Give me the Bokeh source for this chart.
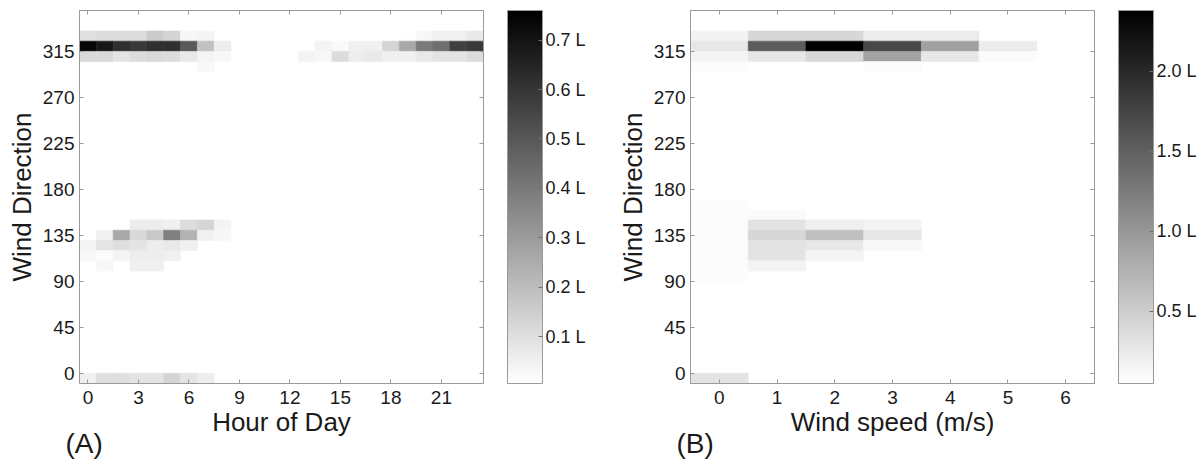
from bokeh.plotting import figure
from bokeh.models import (ColumnDataSource, LinearColorMapper, ColorBar, FixedTicker,
                          PrintfTickFormatter, Range1d, Title, LinearAxis)
from bokeh.layouts import row
from bokeh.palettes import Greys256
from bokeh.transform import transform
from bokeh.embed import file_html
from bokeh.resources import INLINE

FONT = "Liberation Sans"

# ---------------- data ----------------
hours = list(range(24))
speeds = list(range(7))
hour_ticks = [0, 3, 6, 9, 12, 15, 18, 21]
speed_ticks = [0, 1, 2, 3, 4, 5, 6]
direction_ticks = [0, 45, 90, 135, 180, 225, 270, 315]

# Panel A: wind-direction rows (bin centre, deg) x hour of day, litres
dirs_a = [330, 320, 310, 300, 145, 135, 125, 115, 105, -5]
vals_a = [
    [0.10, 0.11, 0.11, 0.11, 0.16, 0.13, 0.03, 0.04, 0, 0, 0, 0, 0, 0, 0, 0, 0, 0, 0, 0.01, 0.03, 0.05, 0.05, 0.07],
    [0.74, 0.69, 0.62, 0.59, 0.62, 0.62, 0.50, 0.19, 0.06, 0, 0, 0, 0, 0, 0.04, 0.02, 0.05, 0.05, 0.13, 0.26, 0.40, 0.43, 0.57, 0.59],
    [0.12, 0.12, 0.085, 0.11, 0.12, 0.11, 0.07, 0.04, 0.03, 0, 0, 0, 0, 0.04, 0.03, 0.11, 0.06, 0.07, 0.05, 0.05, 0.07, 0.085, 0.085, 0.11],
    [0, 0, 0, 0, 0, 0, 0, 0.026, 0, 0, 0, 0, 0, 0, 0, 0, 0, 0, 0, 0, 0, 0, 0, 0],
    [0, 0, 0, 0.06, 0.06, 0.05, 0.11, 0.13, 0.04, 0, 0, 0, 0, 0, 0, 0, 0, 0, 0, 0, 0, 0, 0, 0],
    [0, 0.05, 0.26, 0.12, 0.17, 0.38, 0.23, 0.05, 0.03, 0, 0, 0, 0, 0, 0, 0, 0, 0, 0, 0, 0, 0, 0, 0],
    [0.04, 0.085, 0.10, 0.085, 0.06, 0.07, 0.05, 0, 0, 0, 0, 0, 0, 0, 0, 0, 0, 0, 0, 0, 0, 0, 0, 0],
    [0.03, 0.015, 0.04, 0.06, 0.06, 0.05, 0, 0, 0, 0, 0, 0, 0, 0, 0, 0, 0, 0, 0, 0, 0, 0, 0, 0],
    [0, 0.03, 0, 0.05, 0.05, 0, 0, 0, 0, 0, 0, 0, 0, 0, 0, 0, 0, 0, 0, 0, 0, 0, 0, 0],
    [0.05, 0.10, 0.10, 0.085, 0.085, 0.13, 0.085, 0.06, 0, 0, 0, 0, 0, 0, 0, 0, 0, 0, 0, 0, 0, 0, 0, 0],
]

# Panel B: wind-direction rows (bin centre, deg) x wind speed (m/s), litres
dirs_b = [330, 320, 310, 300, 165, 155, 145, 135, 125, 115, 105, 95, -5]
vals_b = [
    [0.16, 0.42, 0.42, 0.23, 0.23, 0, 0],
    [0.27, 1.54, 2.38, 1.72, 0.92, 0.23, 0],
    [0.16, 0.27, 0.42, 0.89, 0.27, 0.09, 0],
    [0.09, 0, 0, 0.08, 0, 0, 0],
    [0.08, 0, 0, 0, 0, 0, 0],
    [0.08, 0.10, 0, 0, 0, 0, 0],
    [0.08, 0.31, 0.20, 0.16, 0, 0, 0],
    [0.08, 0.42, 0.63, 0.27, 0, 0, 0],
    [0.08, 0.31, 0.27, 0.12, 0, 0, 0],
    [0.08, 0.31, 0.16, 0, 0, 0, 0],
    [0.08, 0.16, 0, 0, 0, 0, 0],
    [0.08, 0, 0, 0, 0, 0, 0],
    [0.31, 0, 0, 0, 0, 0, 0],
]

cbar_ticks_a = [0.1, 0.2, 0.3, 0.4, 0.5, 0.6, 0.7]
cbar_ticks_b = [0.5, 1.0, 1.5, 2.0]
range_a = (0.005, 0.76)
range_b = (0.05, 2.38)
direction_bin = 10

GRAY = "#9a9a9a"
TXT = "#1a1a1a"


def make_source(dirs, vals, xs):
    x, y, v = [], [], []
    for d, rv in zip(dirs, vals):
        for xi, val in zip(xs, rv):
            if val > 0:
                x.append(xi)
                y.append(d)
                v.append(val)
    return ColumnDataSource(dict(x=x, y=y, v=v))


def style_axis(ax):
    ax.axis_line_color = GRAY
    ax.major_tick_line_color = GRAY
    ax.major_tick_in = 4
    ax.major_tick_out = 0
    ax.minor_tick_line_color = None
    ax.major_label_text_font = FONT
    ax.major_label_text_font_size = "19px"
    ax.major_label_text_color = TXT
    ax.axis_label_text_font = FONT
    ax.axis_label_text_font_size = "26px"
    ax.axis_label_text_font_style = "normal"
    ax.axis_label_text_color = TXT


def make_panel(xs, dirs, vals, xticks, xlabel, cticks, crange, tag, width,
               left, right):
    p = figure(width=width, height=460,
               x_range=Range1d(xs[0] - 0.5, xs[-1] + 0.5),
               y_range=Range1d(-10, 355),
               min_border_left=left, min_border_right=right,
               min_border_top=10, min_border_bottom=77,
               output_backend="svg", toolbar_location=None)
    mapper = LinearColorMapper(palette=list(reversed(Greys256)),
                               low=crange[0], high=crange[1])
    src = make_source(dirs, vals, xs)
    p.rect(x="x", y="y", width=1, height=direction_bin, source=src,
           fill_color=transform("v", mapper), line_color=transform("v", mapper),
           line_width=0.6)

    p.xaxis.ticker = FixedTicker(ticks=xticks)
    p.yaxis.ticker = FixedTicker(ticks=direction_ticks)
    p.xaxis.axis_label = xlabel
    p.yaxis.axis_label = "Wind Direction"
    style_axis(p.xaxis[0])
    style_axis(p.yaxis[0])
    p.xaxis.major_label_standoff = 7
    p.yaxis.major_label_standoff = 5
    p.xaxis.axis_label_standoff = 0
    p.yaxis.axis_label_standoff = 3
    p.grid.visible = False
    p.outline_line_color = GRAY

    # mirrored tick marks on top and right (tick marks only, labels not drawn)
    top = LinearAxis(ticker=FixedTicker(ticks=xticks))
    rgt = LinearAxis(ticker=FixedTicker(ticks=direction_ticks))
    for ax in (top, rgt):
        style_axis(ax)
        ax.major_label_text_font_size = "1px"
        ax.major_label_text_color = None
        ax.major_label_standoff = 0
    p.add_layout(top, "above")
    p.add_layout(rgt, "right")

    cb = ColorBar(color_mapper=mapper, ticker=FixedTicker(ticks=cticks),
                  formatter=PrintfTickFormatter(format="%.1f L"),
                  location=(24, 0), width=35, height=373, padding=0, margin=0,
                  label_standoff=3, major_label_text_font=FONT,
                  major_label_text_font_size="18px", major_label_text_color=TXT,
                  major_tick_line_color="#707070", major_tick_in=4, major_tick_out=0,
                  minor_tick_line_color=None, bar_line_color=GRAY,
                  border_line_color=None, background_fill_color=None)
    p.add_layout(cb, "right")

    p.add_layout(Title(text=tag, align="left", offset=-14, vertical_align="top",
                       standoff=-24, text_font=FONT, text_font_size="28px",
                       text_font_style="normal", text_color=TXT), "below")
    return p


pa = make_panel(hours, dirs_a, vals_a, hour_ticks, "Hour of Day", cbar_ticks_a,
                range_a, "(A)", 608, 79, 125)
pb = make_panel(speeds, dirs_b, vals_b, speed_ticks, "Wind speed (m/s)", cbar_ticks_b,
                range_b, "(B)", 592, 82, 106)

layout = row(pa, pb)
open("out.html", "w").write(file_html(layout, INLINE))
